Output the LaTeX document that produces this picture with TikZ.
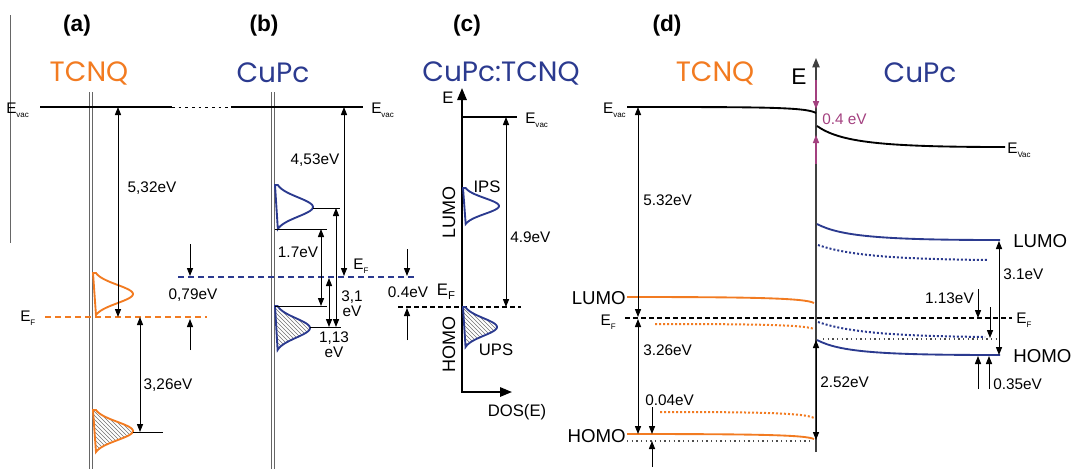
\documentclass[tikz,border=0pt]{standalone}
\usepackage{fontspec}
\setmainfont{Liberation Sans}
\newfontfamily\titlefont{Poppins}
\usetikzlibrary{arrows.meta,patterns}
\definecolor{tor}{HTML}{F27B21}
\definecolor{tbl}{HTML}{2B3A8F}
\definecolor{tmg}{HTML}{A3407F}
\newcommand\sbs[1]{\raisebox{-0.45ex}{\fontsize{6}{6}\selectfont #1}}
\newcommand\gss[4]{(#1,#2-#3) -- plot[domain=-1:1,samples=41,smooth] ({#1+#4*exp(-2.6*\x*\x)},{#2+#3*\x}) -- cycle}
\tikzset{
  lbl/.style={font=\fontsize{11.5}{12}\selectfont, inner sep=0pt},
  lblc/.style={font=\fontsize{12.5}{13}\selectfont, inner sep=0pt},
  big/.style={font=\fontsize{14}{15}\selectfont, inner sep=0pt},
  ttl/.style={font=\titlefont\fontsize{21}{22}\selectfont, inner sep=0pt},
  pan/.style={font=\bfseries\fontsize{17}{18}\selectfont, inner sep=0pt},
  dim/.style={line width=0.7pt, {Triangle[length=6pt,width=4.6pt]}-{Triangle[length=6pt,width=4.6pt]}},
  arr/.style={line width=0.7pt, -{Triangle[length=6pt,width=4.6pt]}},
  evac/.style={line width=2pt},
  thin/.style={line width=0.7pt},
  guide/.style={black!60, line width=0.5pt},
  ogauss/.style={tor, line width=1.4pt},
  bgauss/.style={tbl, line width=1.4pt},
  hatch/.style={pattern=north west lines, pattern color=black!55},
  efdash/.style={line width=2pt, dash pattern=on 4.5pt off 3pt},
  kdash/.style={line width=0.8pt, dash pattern=on 3.5pt off 2.5pt},
  odot/.style={tor, line width=1.5pt, dash pattern=on 1.5pt off 1.5pt},
  bdot/.style={tbl, line width=1.5pt, dash pattern=on 1.5pt off 1.5pt},
  kdot/.style={black!70, line width=0.8pt, dash pattern=on 1pt off 2.5pt},
  dlev/.style={line width=1.4pt}
}
\begin{document}
\begin{tikzpicture}[x=0.75pt,y=-0.75pt]
\path[use as bounding box] (0,0) rectangle (1071,469);

% ================= panel (a)
\coordinate (aL1) at (10,15); \coordinate (aL2) at (10,243);
\draw[guide] (aL1) -- (aL2);
\node[pan] (pa) at (77,26) {(a)};
\node[ttl, tor] (ta) at (89,73) {TCNQ};
\coordinate (aD1t) at (89,92); \coordinate (aD1b) at (89,469);
\coordinate (aD2t) at (92,92); \coordinate (aD2b) at (92,469);
\draw[guide] (aD1t) -- (aD1b); \draw[guide] (aD2t) -- (aD2b);
\coordinate (aEv1) at (40,107); \coordinate (aEv2) at (172,107);
\coordinate (bEv0) at (231,107);
\draw[evac] (aEv1) -- (aEv2);
\draw[thin, dash pattern=on 2pt off 3pt] (aEv2) -- (bEv0);
\node[lbl, anchor=west] (aEvl) at (6,110) {E\sbs{vac}};
\draw[ogauss] \gss{93}{294}{21}{40};
\draw[ogauss, hatch] \gss{93}{431}{21}{40};
\coordinate (aEF1) at (45,317); \coordinate (aEF2) at (207,317);
\draw[tor, efdash] (aEF1) -- (aEF2);
\node[lbl, anchor=west] (aEFl) at (20,318) {E\sbs{F}};
\coordinate (aA1t) at (118,107); \coordinate (aA1b) at (118,317);
\draw[dim] (aA1t) -- (aA1b);
\node[lbl] (l532a) at (152,188) {5,32eV};
\coordinate (aH1) at (133,432); \coordinate (aH2) at (163,432);
\draw[thin] (aH1) -- (aH2);
\coordinate (aA2t) at (140,317); \coordinate (aA2b) at (140,432);
\draw[dim] (aA2t) -- (aA2b);
\node[lbl] (l326a) at (168,385) {3,26eV};
\coordinate (a79a) at (190,244); \coordinate (a79b) at (190,276);
\coordinate (a79c) at (190,350); \coordinate (a79d) at (190,319);
\draw[arr] (a79a) -- (a79b); \draw[arr] (a79c) -- (a79d);
\node[lbl] (l079) at (193,295) {0,79eV};

% ================= panel (b)
\node[pan] (pb) at (264,26) {(b)};
\node[ttl, tbl] (tb) at (273,73) {CuPc};
\coordinate (bD1t) at (271,92); \coordinate (bD1b) at (271,469);
\coordinate (bD2t) at (274,92); \coordinate (bD2b) at (274,469);
\draw[guide] (bD1t) -- (bD1b); \draw[guide] (bD2t) -- (bD2b);
\coordinate (bEv1) at (363,107);
\draw[evac] (bEv0) -- (bEv1);
\node[lbl, anchor=west] (bEvl) at (371,110) {E\sbs{vac}};
\draw[bgauss] \gss{275}{207}{22}{38};
\draw[bgauss, hatch] \gss{275}{328}{22}{35};
\coordinate (bL1) at (313,208); \coordinate (bL2) at (340,208);
\draw[thin] (bL1) -- (bL2);
\coordinate (bL3) at (275,229); \coordinate (bL4) at (327,229);
\draw[thin] (bL3) -- (bL4);
\coordinate (bL5) at (275,306); \coordinate (bL6) at (327,306);
\draw[thin] (bL5) -- (bL6);
\coordinate (bL7) at (310,327); \coordinate (bL8) at (341,327);
\draw[thin] (bL7) -- (bL8);
\coordinate (bEF1) at (178,277); \coordinate (bEF2) at (414,277);
\draw[tbl, efdash] (bEF1) -- (bEF2);
\coordinate (bA1t) at (344,107); \coordinate (bA1b) at (344,276);
\draw[dim] (bA1t) -- (bA1b);
\node[lbl] (l453) at (315,160) {4,53eV};
\coordinate (bA2t) at (321,229); \coordinate (bA2b) at (321,306);
\draw[dim] (bA2t) -- (bA2b);
\node[lbl] (l17) at (298,252) {1.7eV};
\coordinate (bA3t) at (336,208); \coordinate (bA3b) at (336,327);
\draw[dim] (bA3t) -- (bA3b);
\coordinate (bA4t) at (329,278); \coordinate (bA4b) at (329,327);
\draw[dim] (bA4t) -- (bA4b);
\node[lbl, align=center] (l31) at (352,304) {3,1\\[-1pt]eV};
\node[lbl, align=center] (l113b) at (334,345) {1,13\\[-1pt]eV};
\node[lbl] (bEFl) at (361,266) {E\sbs{F}};
\coordinate (b04a) at (407,249); \coordinate (b04b) at (407,276);
\coordinate (b04c) at (407,340); \coordinate (b04d) at (407,308);
\draw[arr] (b04a) -- (b04b); \draw[arr] (b04c) -- (b04d);
\node[lbl] (l04b) at (408,292) {0.4eV};

% ================= panel (c)
\node[pan] (pc) at (467,26) {(c)};
\node[ttl, tbl] (tc) at (501,73) {CuPc:TCNQ};
\coordinate (cAx1) at (462,88); \coordinate (cAx0) at (462,392); \coordinate (cAx2) at (512,392);
\draw[line width=1.5pt, {Triangle[length=9pt,width=7pt]}-{Triangle[length=9pt,width=7pt]}] (cAx1) -- (cAx0) -- (cAx2);
\node[lblc] (cE) at (448,98) {E};
\node[lblc] (cDOS) at (517,412) {DOS(E)};
\coordinate (cEv1) at (462,117); \coordinate (cEv2) at (517,117);
\draw[line width=1.2pt] (cEv1) -- (cEv2);
\node[lbl, anchor=west] (cEvl) at (525,120) {E\sbs{vac}};
\coordinate (cEF1) at (398,307); \coordinate (cEF2) at (521,307);
\draw[kdash, line width=1.1pt] (cEF1) -- (cEF2);
\draw[bgauss] \gss{463}{206}{18}{36};
\draw[bgauss, hatch] \gss{463}{327}{20}{34};
\coordinate (cA1t) at (506,117); \coordinate (cA1b) at (506,307);
\draw[dim] (cA1t) -- (cA1b);
\node[lbl, anchor=west] (l49) at (510,237) {4.9eV};
\node[lblc] (cIPS) at (487,187) {IPS};
\node[lblc] (cUPS) at (496,350) {UPS};
\node[font=\fontsize{12.5}{13}\selectfont, inner sep=0pt] (cEF) at (446,292) {E\raisebox{-0.5ex}{\fontsize{8.5}{8.5}\selectfont F}};
\node[rotate=90, inner sep=0pt, font=\fontsize{13.5}{14}\selectfont] (cLUMO) at (449,212) {LUMO};
\node[rotate=90, inner sep=0pt, font=\fontsize{13.5}{14}\selectfont] (cHOMO) at (449,344) {HOMO};

% ================= panel (d)
\node[pan] (pd) at (667,26) {(d)};
\node[ttl, tor] (td) at (715,73) {TCNQ};
\node[ttl, tbl] (td2) at (920,73) {CuPc};
\node[font=\fontsize{17}{18}\selectfont, inner sep=0pt] (dE) at (799,77) {E};
\coordinate (dAx0) at (816,452); \coordinate (dAx1) at (816,58);
\draw[black!75, line width=1pt, -{Triangle[length=7pt,width=5.5pt]}] (dAx0) -- (dAx1);
% vacuum levels
\coordinate (dEvL1) at (627,107); \coordinate (dEvL2) at (816,113);
\draw[dlev] (dEvL1) .. controls (760,107) and (806,107) .. (dEvL2);
\coordinate (dEvR1) at (817,126); \coordinate (dEvR2) at (1005,147);
\draw[dlev] (dEvR1) .. controls (840,142) and (880,147) .. (dEvR2);
\node[lbl, anchor=east] (dEvl) at (626,110) {E\sbs{vac}};
\node[lbl, anchor=west] (dEvr) at (1007,150) {E\sbs{Vac}};
% TCNQ side
\coordinate (dLU1) at (627,297); \coordinate (dLU2) at (814,303);
\draw[tor, dlev] (dLU1) .. controls (750,297) and (805,298) .. (dLU2);
\coordinate (dOd1) at (655,324); \coordinate (dOd2) at (814,329);
\draw[odot] (dOd1) .. controls (760,324) and (805,325) .. (dOd2);
\coordinate (dOd3) at (660,412); \coordinate (dOd4) at (814,418);
\draw[odot] (dOd3) .. controls (760,412) and (805,413) .. (dOd4);
\coordinate (dHO1) at (627,434); \coordinate (dHO2) at (814,439);
\draw[tor, dlev] (dHO1) .. controls (760,434) and (805,435) .. (dHO2);
\coordinate (dKd1) at (627,441); \coordinate (dKd2) at (812,441);
\draw[kdot] (dKd1) -- (dKd2);
% Fermi level
\coordinate (dEF1) at (625,318); \coordinate (dEF2) at (1012,318);
\draw[kdash] (dEF1) -- (dEF2);
% CuPc side
\coordinate (dBL1) at (817,224); \coordinate (dBL2) at (1000,240);
\draw[tbl, dlev] (dBL1) .. controls (840,236) and (880,240) .. (dBL2);
\coordinate (dBd1) at (818,245); \coordinate (dBd2) at (988,260);
\draw[bdot] (dBd1) .. controls (850,256) and (900,259) .. (dBd2);
\coordinate (dBd3) at (818,322); \coordinate (dBd4) at (985,337);
\draw[bdot] (dBd3) .. controls (850,333) and (900,336) .. (dBd4);
\coordinate (dKd3) at (823,339); \coordinate (dKd4) at (1000,339);
\draw[kdot] (dKd3) -- (dKd4);
\coordinate (dBH1) at (817,340); \coordinate (dBH2) at (1000,355);
\draw[tbl, dlev] (dBH1) .. controls (840,352) and (880,355) .. (dBH2);
% arrows
\coordinate (d1t) at (638,107); \coordinate (d1b) at (638,317);
\draw[dim] (d1t) -- (d1b);
\coordinate (d2t) at (638,319); \coordinate (d2b) at (638,434);
\draw[dim] (d2t) -- (d2b);
\coordinate (d3a) at (652,407); \coordinate (d3b) at (652,434);
\coordinate (d3c) at (652,467); \coordinate (d3d) at (652,441);
\draw[arr] (d3a) -- (d3b); \draw[arr] (d3c) -- (d3d);
\coordinate (d4t) at (816,340); \coordinate (d4b) at (816,440);
\draw[dim] (d4t) -- (d4b);
\coordinate (dm1) at (816,80); \coordinate (dm2) at (816,109);
\coordinate (dm3) at (816,164); \coordinate (dm4) at (816,135);
\draw[arr, tmg, line width=0.8pt] (dm1) -- (dm2);
\draw[arr, tmg, line width=0.8pt] (dm3) -- (dm4);
\coordinate (d5t) at (999,241); \coordinate (d5b) at (999,355);
\draw[dim] (d5t) -- (d5b);
\coordinate (d6a) at (978,289); \coordinate (d6b) at (978,318);
\draw[arr] (d6a) -- (d6b);
\coordinate (d7a) at (990,307); \coordinate (d7b) at (990,338);
\draw[arr] (d7a) -- (d7b);
\coordinate (d8a) at (978,389); \coordinate (d8b) at (978,356);
\coordinate (d9a) at (989,389); \coordinate (d9b) at (989,356);
\draw[arr] (d8a) -- (d8b); \draw[arr] (d9a) -- (d9b);
% labels
\node[lbl, tmg, anchor=west] (l04d) at (822,119) {0.4 eV};
\node[lbl, anchor=west] (l532d) at (643,200) {5.32eV};
\node[big, anchor=east] (dLUl) at (626,298) {LUMO};
\node[lbl, anchor=east] (dEFl) at (616,322) {E\sbs{F}};
\node[lbl, anchor=west] (l326d) at (643,350) {3.26eV};
\node[lbl, anchor=west] (l004) at (645,400) {0.04eV};
\node[big, anchor=east] (dHOl) at (626,436) {HOMO};
\node[lbl, anchor=west] (l252) at (820,382) {2.52eV};
\node[big, anchor=west] (dLUr) at (1013,241) {LUMO};
\node[lbl, anchor=west] (l31d) at (1003,274) {3.1eV};
\node[lbl, anchor=east] (l113d) at (974,298) {1.13eV};
\node[lbl, anchor=west] (dEFr) at (1016,320) {E\sbs{F}};
\node[big, anchor=west] (dHOr) at (1013,356) {HOMO};
\node[lbl, anchor=west] (l035) at (993,384) {0.35eV};
\end{tikzpicture}
\end{document}
